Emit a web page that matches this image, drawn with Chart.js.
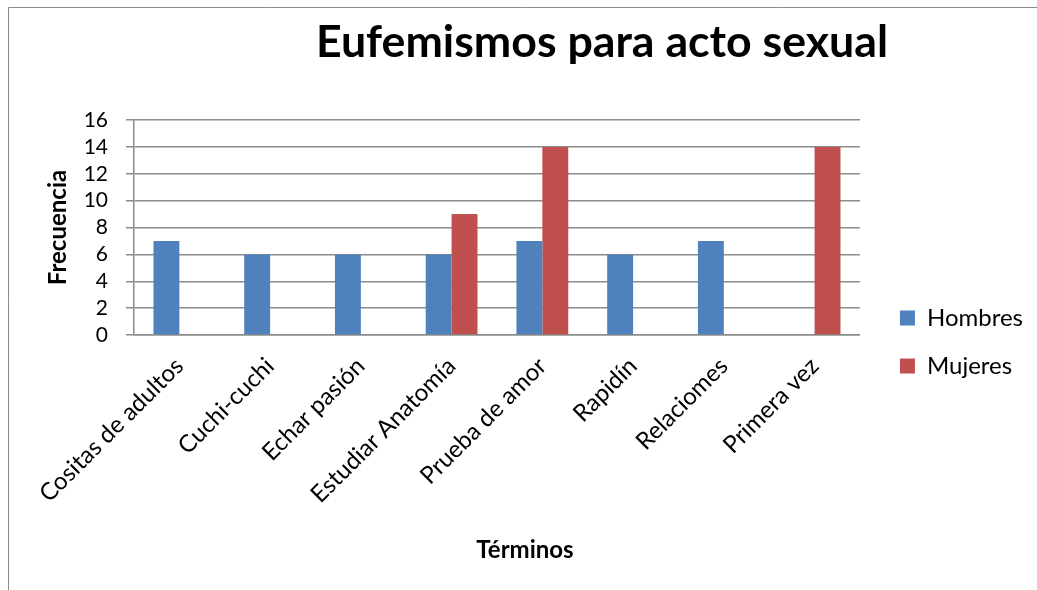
<!DOCTYPE html>
<html>
<head>
<meta charset="utf-8">
<script src="https://cdn.jsdelivr.net/npm/chart.js@4"></script>
<style>
  html, body { margin: 0; padding: 0; background: #fff; }
  #wrap { position: relative; width: 1037px; height: 590px; }
</style>
</head>
<body>
<div id="wrap"><canvas id="chart" width="1037" height="590"></canvas></div>
<script>
// data
const categories = ["Cositas de adultos", "Cuchi-cuchi", "Echar pasión", "Estudiar Anatomía",
                    "Prueba de amor", "Rapidín", "Relaciomes", "Primera vez"];
const hombres = [7, 6, 6, 6, 7, 6, 7, null];
const mujeres = [null, null, null, 9, 14, null, null, 14];
const seriesNames = ["Hombres", "Mujeres"];
const yTicks = [0, 2, 4, 6, 8, 10, 12, 14, 16];

const chartTitle = "Eufemismos para acto sexual";
const xTitle = "Términos";
const yTitle = "Frecuencia";

const FONT = "Lato, 'Open Sans', sans-serif";
const GRID = "#8c8c8c";

/* frame + titles drawn on the canvas */
const framePlugin = {
    id: "frame",
    beforeDraw (chart) {
        const ctx = chart.ctx;
        ctx.save();
        ctx.fillStyle = "#fff";
        ctx.fillRect(0, 0, chart.width, chart.height);
        ctx.strokeStyle = "#8a8a8a";
        ctx.lineWidth = 1;
        ctx.beginPath();
        ctx.moveTo(8.5, chart.height);
        ctx.lineTo(8.5, 7.5);
        ctx.lineTo(chart.width, 7.5);
        ctx.stroke();
        ctx.restore();
    },
    afterDraw (chart) {
        const ctx = chart.ctx;
        ctx.save();
        ctx.fillStyle = "#000";
        ctx.textAlign = "center";
        ctx.textBaseline = "alphabetic";
        // main title, sized to the width it has in the reference
        ctx.font = "bold 44px " + FONT;
        let w = ctx.measureText(chartTitle).width;
        let sz = Math.round(44 * 572 / w * 10) / 10;
        ctx.font = "bold " + sz + "px " + FONT;
        ctx.fillText(chartTitle, 602, 57);
        // category axis title
        ctx.font = "bold 24px " + FONT;
        ctx.fillText(xTitle, 525, 558);
        ctx.restore();
    }
};

function build () {
    const ctx = document.getElementById("chart").getContext("2d");
    new Chart(ctx, {
        type: "bar",
        data: {
            labels: categories,
            datasets: [
                { label: seriesNames[0], data: hombres, backgroundColor: "#4F81BD", borderWidth: 0 },
                { label: seriesNames[1], data: mujeres, backgroundColor: "#C0504D", borderWidth: 0 }
            ]
        },
        options: {
            responsive: false,
            animation: false,
            layout: { padding: { top: 120, bottom: 26, left: 0, right: 4 } },
            datasets: { bar: { categoryPercentage: 0.571, barPercentage: 1.0 } },
            plugins: {
                title: { display: false },
                tooltip: { enabled: false },
                legend: {
                    position: "right",
                    align: "center",
                    labels: {
                        font: { family: FONT, size: 24 },
                        color: "#000",
                        boxWidth: 15,
                        boxHeight: 15,
                        padding: 24
                    }
                }
            },
            scales: {
                x: {
                    grid: { display: false },
                    border: { display: true, color: GRID, width: 1.5 },
                    ticks: {
                        font: { family: FONT, size: 24 },
                        color: "#000",
                        minRotation: 45,
                        maxRotation: 45,
                        autoSkip: false,
                        padding: 9
                    },
                    afterFit (scale) { scale.height = 229; }
                },
                y: {
                    min: 0,
                    max: 16,
                    afterBuildTicks (scale) {
                        scale.ticks = yTicks.map(v => ({ value: v }));
                    },
                    grid: { color: GRID, lineWidth: 1.5, tickLength: 8 },
                    border: { display: true, color: GRID, width: 1.5 },
                    ticks: {
                        font: { family: FONT, size: 21 },
                        color: "#000",
                        autoSkip: false,
                        padding: 18
                    },
                    title: {
                        display: true,
                        text: yTitle,
                        color: "#000",
                        font: { family: FONT, size: 24, weight: "bold" },
                        padding: { top: 44, bottom: 0 }
                    },
                    afterFit (scale) { scale.width = 134; }
                },
                yGap: {
                    position: "right",
                    display: true,
                    grid: { drawOnChartArea: false, drawTicks: false },
                    border: { display: false },
                    ticks: { display: false },
                    afterFit (scale) { scale.width = 16; }
                }
            }
        },
        plugins: [framePlugin]
    });
}

Promise.all([
    document.fonts.load("20px Lato"),
    document.fonts.load("bold 44px Lato")
]).then(build, build);
</script>
</body>
</html>
